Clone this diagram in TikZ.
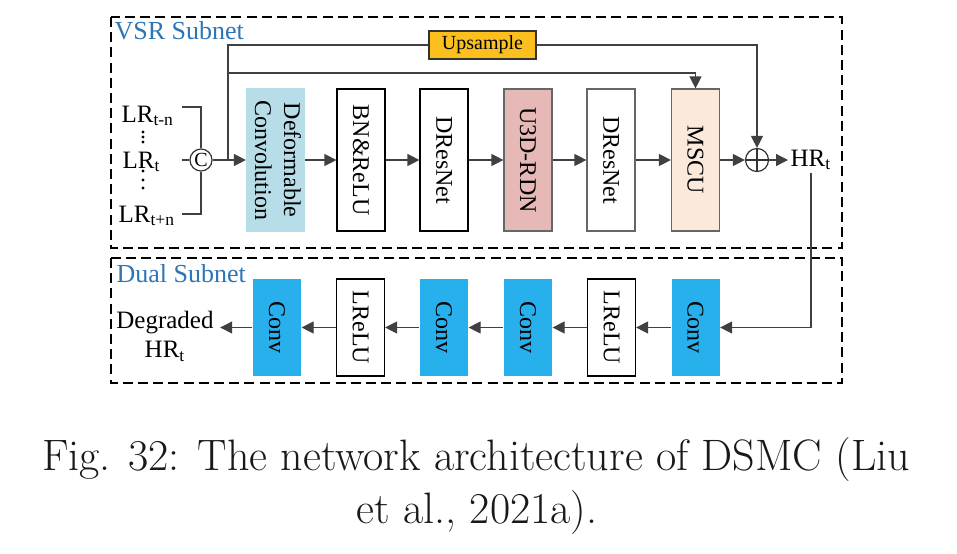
\documentclass[tikz,border=0pt]{standalone}
\usepackage{fontspec}
\usepackage{graphicx}
\newfontfamily\tms{Liberation Serif}
\usetikzlibrary{arrows.meta}
\definecolor{titleblue}{RGB}{46,117,182}
\definecolor{upsorange}{RGB}{252,192,30}
\definecolor{defblue}{RGB}{182,221,232}
\definecolor{u3dpink}{RGB}{230,185,183}
\definecolor{mscupeach}{RGB}{251,233,220}
\definecolor{convblue}{RGB}{40,176,236}
\newcommand{\vtext}[1]{\rotatebox{-90}{#1}}
\begin{document}
\begin{tikzpicture}[x=0.5pt,y=-0.5pt,line width=0.6pt,
  >={Triangle[length=6pt,width=6pt]},
  blk/.style={draw=black!80,minimum width=24pt,minimum height=71pt,inner sep=0pt,font=\tms\fontsize{12}{14.5}\selectfont},
  dblk/.style={blk,minimum height=48.5pt},
  convblk/.style={dblk,draw=none,fill=convblue},
  frame/.style={draw,line width=0.8pt,dash pattern=on 5pt off 2.6pt},
  lbl/.style={inner sep=0pt,font=\tms\fontsize{12.5}{14.5}\selectfont},
  subnet/.style={anchor=base west,inner sep=0pt,text=titleblue,font=\tms\fontsize{13}{14}\selectfont},
  circ/.style={circle,draw=black!80,minimum size=11pt,inner sep=0pt,font=\tms\fontsize{10}{10}\selectfont},
  conn/.style={draw=black!75}]
\useasboundingbox (0,0) rectangle (957,553);
%
\draw[frame] (111,17) rectangle (842,248);
\draw[frame] (111,258) rectangle (842,383);
\node[subnet] (vsr) at (114,39) {VSR Subnet};
\node[subnet] (dual) at (116,282) {Dual Subnet};
%
\node[lbl,anchor=base west] (lrtop) at (121,122) {LR\textsubscript{t-n}};
\node[lbl,anchor=base west] (lrmid) at (122,168) {LR\textsubscript{t}};
\node[lbl,anchor=base west] (lrbot) at (118,222) {LR\textsubscript{t+n}};
\foreach \y in {132,137,142,171,180,188}
  \fill (143,\y) circle (1.6);
\node[circ] (cat) at (201,160) {C};
\coordinate (jt) at (182,107);
\coordinate (jm) at (182,160);
\coordinate (jb) at (182,214);
\draw[conn] (jt) -| (cat.north);
\draw[conn] (jb) -| (cat.south);
\draw[conn] (jm) -- (cat.west);
%
\node[blk,draw=defblue,fill=defblue] (def) at (275.5,160) {\vtext{\begin{tabular}{@{}c@{}}Deformable\\Convolution\end{tabular}}};
\node[blk,draw=black] (bn) at (361,160) {\vtext{BN\&ReLU}};
\node[blk,draw=black] (dr1) at (444,160) {\vtext{DResNet}};
\node[blk,draw=black!60,fill=u3dpink] (u3d) at (528,160) {\vtext{U3D-RDN}};
\node[blk,draw=black!60] (dr2) at (611,160) {\vtext{DResNet}};
\node[blk,draw=black!60,fill=mscupeach] (mscu) at (695.5,160) {\vtext{MSCU}};
\node[circ,minimum size=11.5pt] (plus) at (757,160) {};
\draw[black!80] (plus.north) -- (plus.south) (plus.west) -- (plus.east);
\node[lbl,anchor=west,inner sep=1pt] (hr) at (788,160) {HR\textsubscript{t}};
\node[draw=black!80,fill=upsorange,minimum width=53.5pt,minimum height=14pt,inner sep=0pt,font=\tms\fontsize{10}{12}\selectfont] (ups) at (482.5,45) {Upsample};
%
\coordinate (split) at (228,160);
\coordinate (skip) at (228,73);
\draw[conn,->] (cat.east) -- (def.west);
\draw[conn] (split) |- (ups.west);
\draw[conn,->] (ups.east) -| (plus.north);
\draw[conn,->] (skip) -| (mscu.north);
\foreach \a/\b in {def/bn,bn/dr1,dr1/u3d,u3d/dr2,dr2/mscu,mscu/plus,plus/hr}
  \draw[conn,->] (\a.east) -- (\b.west);
%
\node[convblk] (c1) at (695.5,327.5) {\vtext{Conv}};
\node[dblk,draw=black] (r1) at (611.5,327.5) {\vtext{LReLU}};
\node[convblk] (c2) at (528,327.5) {\vtext{Conv}};
\node[convblk] (c3) at (444,327.5) {\vtext{Conv}};
\node[dblk,draw=black] (r2) at (360.5,327.5) {\vtext{LReLU}};
\node[convblk] (c4) at (277,327.5) {\vtext{Conv}};
\node[lbl,align=center,anchor=north,inner xsep=3pt] (deg) at (165,311) {Degraded\\HR\textsubscript{t}};
\draw[conn,->] (hr.south) |- (c1.east);
\foreach \a/\b in {c1/r1,r1/c2,c2/c3,c3/r2,r2/c4}
  \draw[conn,->] (\a.west) -- (\b.east);
\draw[conn,->] (c4.west) -- (c4.west -| deg.east);
%
\node[anchor=base,inner sep=0pt,text=black!90,font=\fontsize{22}{26}\selectfont] (cap1) at (476,470) {Fig. 32: The network architecture of DSMC (Liu};
\node[anchor=base,inner sep=0pt,text=black!90,font=\fontsize{22}{26}\selectfont] (cap2) at (477,523) {et al., 2021a).};
\end{tikzpicture}
\end{document}
